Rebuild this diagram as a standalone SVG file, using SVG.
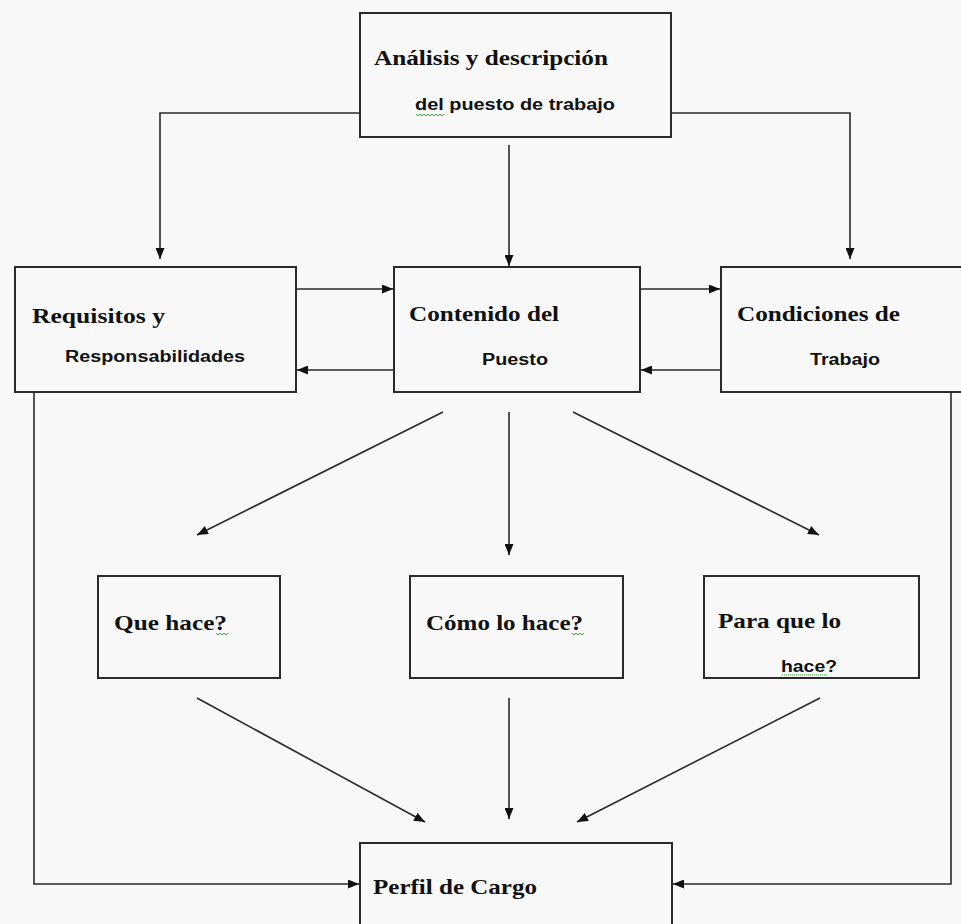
<svg xmlns="http://www.w3.org/2000/svg" width="961" height="924" viewBox="0 0 961 924">
<style>
.box{fill:#f8f8f8;stroke:#2a2a2a;stroke-width:2}
.ln{fill:none;stroke:#2a2a2a;stroke-width:1.6}
.s{font-family:"Liberation Serif","Times New Roman",serif;font-weight:bold;font-size:21px;fill:#111}
.a{font-family:"Liberation Sans",Arial,sans-serif;font-weight:bold;font-size:16px;fill:#111}
.sq{fill:none;stroke:#3aa83a;stroke-width:1}
</style>
<defs>
<marker id="ah" viewBox="0 0 11 9" refX="11" refY="4.5" markerWidth="11" markerHeight="9" markerUnits="userSpaceOnUse" orient="auto">
<path d="M0,0 L11,4.5 L0,9 Z" fill="#111"/>
</marker>
</defs>
<rect x="0" y="0" width="961" height="924" fill="#f8f8f8"/>
<g id="connectors">
<polyline class="ln" points="360,113 160,113 160,259" marker-end="url(#ah)"/>
<polyline class="ln" points="671,113 850,113 850,259" marker-end="url(#ah)"/>
<line class="ln" x1="509" y1="145" x2="509" y2="266" marker-end="url(#ah)"/>
<line class="ln" x1="296" y1="289" x2="393" y2="289" marker-end="url(#ah)"/>
<line class="ln" x1="394" y1="370" x2="297" y2="370" marker-end="url(#ah)"/>
<line class="ln" x1="640" y1="289" x2="720" y2="289" marker-end="url(#ah)"/>
<line class="ln" x1="721" y1="370" x2="641" y2="370" marker-end="url(#ah)"/>
<polyline class="ln" points="34,392 34,884 359,884" marker-end="url(#ah)"/>
<polyline class="ln" points="951,392 951,884 673,884" marker-end="url(#ah)"/>
<line class="ln" x1="443" y1="412" x2="197" y2="535" marker-end="url(#ah)"/>
<line class="ln" x1="509" y1="412" x2="509" y2="555" marker-end="url(#ah)"/>
<line class="ln" x1="573" y1="412" x2="819" y2="535" marker-end="url(#ah)"/>
<line class="ln" x1="197" y1="698" x2="425" y2="822" marker-end="url(#ah)"/>
<line class="ln" x1="509" y1="698" x2="509" y2="819" marker-end="url(#ah)"/>
<line class="ln" x1="820" y1="698" x2="577" y2="822" marker-end="url(#ah)"/>
</g>
<g id="analisis">
<rect class="box" x="360" y="13" width="311" height="124"/>
<text class="s" x="374" y="65" textLength="234" lengthAdjust="spacingAndGlyphs">Análisis y descripción</text>
<text class="a" x="415" y="110" textLength="200" lengthAdjust="spacingAndGlyphs">del puesto de trabajo</text>
<path class="sq" d="M416,114 l2,2 l2,-2 l2,2 l2,-2 l2,2 l2,-2 l2,2 l2,-2 l2,2 l2,-2 l2,2 l2,-2 l2,2 l2,-2"/>
</g>
<g id="requisitos">
<rect class="box" x="15" y="267" width="281" height="125"/>
<text class="s" x="32" y="323" textLength="133" lengthAdjust="spacingAndGlyphs">Requisitos y</text>
<text class="a" x="65" y="362" textLength="180" lengthAdjust="spacingAndGlyphs">Responsabilidades</text>
</g>
<g id="contenido">
<rect class="box" x="394" y="267" width="246" height="125"/>
<text class="s" x="409" y="321" textLength="150" lengthAdjust="spacingAndGlyphs">Contenido del</text>
<text class="a" x="482" y="365" textLength="66" lengthAdjust="spacingAndGlyphs">Puesto</text>
</g>
<g id="condiciones">
<rect class="box" x="721" y="267" width="250" height="125"/>
<text class="s" x="737" y="321" textLength="163" lengthAdjust="spacingAndGlyphs">Condiciones de</text>
<text class="a" x="810" y="365" textLength="70" lengthAdjust="spacingAndGlyphs">Trabajo</text>
</g>
<g id="que-hace">
<rect class="box" x="98" y="576" width="182" height="102"/>
<text class="s" x="114" y="630" textLength="113" lengthAdjust="spacingAndGlyphs">Que hace?</text>
<path class="sq" d="M216,633 l2,2 l2,-2 l2,2 l2,-2 l2,2 l2,-2"/>
</g>
<g id="como-lo-hace">
<rect class="box" x="410" y="576" width="213" height="102"/>
<text class="s" x="426" y="630" textLength="157" lengthAdjust="spacingAndGlyphs">Cómo lo hace?</text>
<path class="sq" d="M572,633 l2,2 l2,-2 l2,2 l2,-2 l2,2 l2,-2"/>
</g>
<g id="para-que">
<rect class="box" x="704" y="576" width="215" height="102"/>
<text class="s" x="718" y="628" textLength="123" lengthAdjust="spacingAndGlyphs">Para que lo</text>
<text class="a" x="781" y="672" textLength="56" lengthAdjust="spacingAndGlyphs">hace?</text>
<line x1="782" y1="675" x2="828" y2="675" stroke="#3aa83a" stroke-width="1" stroke-dasharray="1,1"/>
</g>
<g id="perfil">
<rect class="box" x="360" y="843" width="312" height="95"/>
<text class="s" x="373" y="894" textLength="164" lengthAdjust="spacingAndGlyphs">Perfil de Cargo</text>
</g>
</svg>
